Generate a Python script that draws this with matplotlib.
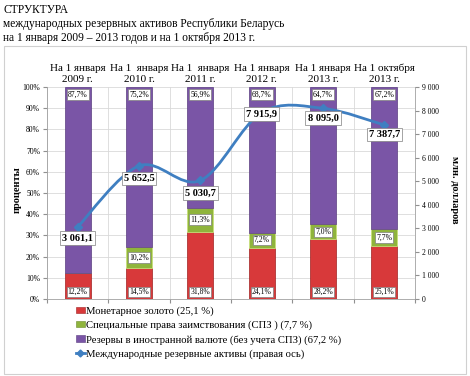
import matplotlib.pyplot as plt
import numpy as np
from matplotlib.path import Path
from matplotlib.patches import PathPatch, Rectangle
from matplotlib.lines import Line2D
from matplotlib.patches import Patch

plt.rcParams['font.family'] = ['Liberation Serif', 'DejaVu Serif']

# data
categories = ['На 1 января\n2009 г.', 'На 1  января\n2010 г.', 'На 1  января\n2011 г.',
              'На 1 января\n2012 г.', 'На 1 января\n2013 г.', 'На 1 октября\n2013 г.']
gold = [12.2, 14.5, 31.8, 24.1, 28.2, 25.1]
sdr = [0.1, 10.2, 11.3, 7.2, 7.0, 7.7]
fx = [87.7, 75.2, 56.9, 68.7, 64.7, 67.2]
reserves = [3061.1, 5652.5, 5030.7, 7915.9, 8095.0, 7387.7]
# label offsets for the line values (points)
res_offsets = [-8, -9, -9, -1, -7, -7]

c_gold = '#d8393a'
c_sdr = '#8fb43c'
c_fx = '#7a55a6'
c_line = '#3f7fc1'

def fmt(v, nd=1):
    s = f'{v:,.{nd}f}'.replace(',', ' ').replace('.', ',')
    return s

fig = plt.figure(figsize=(4.7, 3.76), dpi=100)

# title
fig.text(3/470, 1-4/376, 'СТРУКТУРА', fontsize=8.3, va='top', ha='left')
fig.text(3/470, 1-18/376, 'международных резервных активов Республики Беларусь',
         fontsize=8.3, va='top', ha='left')
fig.text(3/470, 1-32/376, 'на 1 января 2009 – 2013 годов и на 1 октября 2013 г.',
         fontsize=8.3, va='top', ha='left')

# chart frame
fig.patches.append(Rectangle((4/470, 1-374/376), 462/470, 328/376, transform=fig.transFigure,
                             fill=False, edgecolor='#d0d0d0', linewidth=0.8))

ax = fig.add_axes([47/470, 1-299/376, 368/470, 212/376])
x = np.arange(len(categories))
w = 0.42
bottom2 = np.array(gold) + np.array(sdr)
ax.bar(x, gold, w, color=c_gold, edgecolor='#a02020', linewidth=0.5, zorder=2)
ax.bar(x, sdr, w, bottom=gold, color=c_sdr, edgecolor='#c8e07a', linewidth=0.6, zorder=2)
ax.bar(x, fx, w, bottom=bottom2, color=c_fx, edgecolor='#5a3c80', linewidth=0.5, zorder=2)

bbox = dict(boxstyle='square,pad=0.15', facecolor='white', edgecolor='#808080', linewidth=0.5)
for i in range(len(x)):
    ax.text(x[i], 1.5, fmt(gold[i]) + '%', ha='center', va='bottom', fontsize=5.5, bbox=bbox, zorder=5)
    if sdr[i] >= 1:
        ax.text(x[i], gold[i] + sdr[i] / 2, fmt(sdr[i]) + '%', ha='center', va='center',
                fontsize=5.5, bbox=bbox, zorder=5)
    ax.text(x[i], 98.3, fmt(fx[i]) + '%', ha='center', va='top', fontsize=5.5, bbox=bbox, zorder=5)

ax.set_xlim(-0.5, len(x) - 0.5)
ax.set_ylim(0, 100)
ax.set_yticks(np.arange(0, 101, 10))
ax.set_yticklabels([f'{v}%' for v in range(0, 101, 10)], fontsize=5.5)
ax.set_xticks(np.arange(-0.5, len(x), 1))
ax.set_xticklabels([])
ax.tick_params(axis='x', length=3, color='#909090')
ax.tick_params(axis='y', length=3, color='#909090', pad=2)
ax.grid(True, color='#d9d9d9', linewidth=0.6, zorder=0)
ax.set_axisbelow(True)
for s in ax.spines.values():
    s.set_color('#a0a0a0')
    s.set_linewidth(0.6)
ax.spines['top'].set_visible(False)

for i, c in enumerate(categories):
    ax.text(x[i], 1.015, c, transform=ax.get_xaxis_transform(), ha='center', va='bottom',
            fontsize=8.0, linespacing=1.3)

fig.text(17/470, 1-190/376, 'проценты', rotation=90, fontsize=7.5, fontweight='bold',
         ha='center', va='center')

ax2 = ax.twinx()
ax2.set_ylim(0, 9000)
ax2.set_yticks(np.arange(0, 9001, 1000))
ax2.set_yticklabels([fmt(v, 0) for v in range(0, 9001, 1000)], fontsize=5.5)
ax2.tick_params(axis='y', length=3, color='#909090', pad=2)
for s in ax2.spines.values():
    s.set_visible(False)
fig.text(455/470, 1-190/376, 'млн. долларов', rotation=270, fontsize=7.5, fontweight='bold',
         ha='center', va='center')

# smoothed line (Catmull-Rom as Bezier)
pts = np.column_stack([x, reserves]).astype(float)
verts = [pts[0]]
codes = [Path.MOVETO]
n = len(pts)
for i in range(n - 1):
    p0 = pts[max(i - 1, 0)]
    p1 = pts[i]
    p2 = pts[i + 1]
    p3 = pts[min(i + 2, n - 1)]
    c1 = p1 + (p2 - p0) / 6
    c2 = p2 - (p3 - p1) / 6
    verts += [c1, c2, p2]
    codes += [Path.CURVE4] * 3
ax2.add_patch(PathPatch(Path(verts, codes), facecolor='none', edgecolor=c_line,
                        linewidth=2, zorder=4))
ax2.plot(x, reserves, linestyle='none', marker='D', markersize=4, color=c_line, zorder=5)

bbox2 = dict(boxstyle='square,pad=0.2', facecolor='white', edgecolor='#808080', linewidth=0.5)
for i in range(n):
    ax2.annotate(fmt(reserves[i]), (x[i], reserves[i]), xytext=(0, res_offsets[i]),
                 textcoords='offset points', ha='center', va='center', fontsize=7.5,
                 fontweight='bold', bbox=bbox2, zorder=6)

handles = [Patch(facecolor=c_gold, edgecolor='#a02020', linewidth=0.4),
           Patch(facecolor=c_sdr, edgecolor='#6a8a2a', linewidth=0.4),
           Patch(facecolor=c_fx, edgecolor='#5a3c80', linewidth=0.4),
           Line2D([], [], color=c_line, linewidth=2, marker='D', markersize=3.5)]
labels = ['Монетарное золото (25,1 %)',
          'Специальные права заимствования (СПЗ ) (7,7 %)',
          'Резервы в иностранной валюте (без учета СПЗ) (67,2 %)',
          'Международные резервные активы (правая ось)']
fig.legend(handles, labels, loc='upper left', bbox_to_anchor=(76/470, 1-306/376),
           frameon=False, fontsize=7.7, handlelength=0.8, handleheight=0.5,
           handletextpad=0.1, labelspacing=0.45, borderpad=0, borderaxespad=0)

fig.savefig('out.png', dpi=100)
